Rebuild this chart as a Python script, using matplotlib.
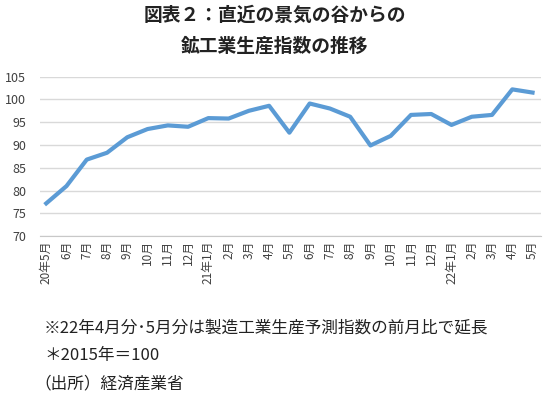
import matplotlib.pyplot as plt

plt.rcParams['font.family'] = ['Noto Sans CJK JP', 'DejaVu Sans']

# 鉱工業生産指数（2015年=100）
months = ['20年5月', '6月', '7月', '8月', '9月', '10月', '11月', '12月',
          '21年1月', '2月', '3月', '4月', '5月', '6月', '7月', '8月', '9月',
          '10月', '11月', '12月', '22年1月', '2月', '3月', '4月', '5月']
index_values = [77.2, 81.0, 86.8, 88.3, 91.7, 93.5, 94.3, 94.0,
                95.9, 95.8, 97.5, 98.6, 92.7, 99.1, 98.0, 96.2, 89.9,
                92.0, 96.6, 96.8, 94.4, 96.2, 96.6, 102.2, 101.5]
yticks = [70, 75, 80, 85, 90, 95, 100, 105]

title = '図表２：直近の景気の谷からの\n鉱工業生産指数の推移'
notes = ['※22年4月分･5月分は製造工業生産予測指数の前月比で延長',
         '＊2015年＝100',
         '（出所）経済産業省']

fig = plt.figure(figsize=(5.5, 3.99), dpi=100)
ax = fig.add_axes([0.073, 0.408, 0.91, 0.40])

x = list(range(len(months)))
ax.plot(x, index_values, color='#5B9BD5', linewidth=3, solid_joinstyle='round')

ax.set_ylim(70, 105)
ax.set_yticks(yticks)
ax.set_xlim(-0.3, len(months) - 0.6)
ax.set_xticks(x)
ax.set_xticklabels(months, rotation=90, fontsize=8.5, color='#404040')
ax.tick_params(axis='y', labelsize=9, colors='#404040', length=0, pad=10)
ax.tick_params(axis='x', length=0, pad=3)

ax.grid(axis='y', color='#d9d9d9', linewidth=1)
ax.set_axisbelow(True)
for s in ['top', 'right', 'left']:
    ax.spines[s].set_visible(False)
ax.spines['bottom'].set_color('#c8c8c8')
ax.spines['bottom'].set_linestyle((0, (2, 1)))

fig.text(0.5, 0.985, title, ha='center', va='top', fontsize=13.5,
         fontweight='bold', linespacing=1.75, color='#222222')

ys = [0.178, 0.108, 0.038]
xs = [0.080, 0.080, 0.062]
for t, xx, yy in zip(notes, xs, ys):
    fig.text(xx, yy, t, ha='left', va='center', fontsize=12, color='#222222')

fig.savefig('out.png', dpi=100)
